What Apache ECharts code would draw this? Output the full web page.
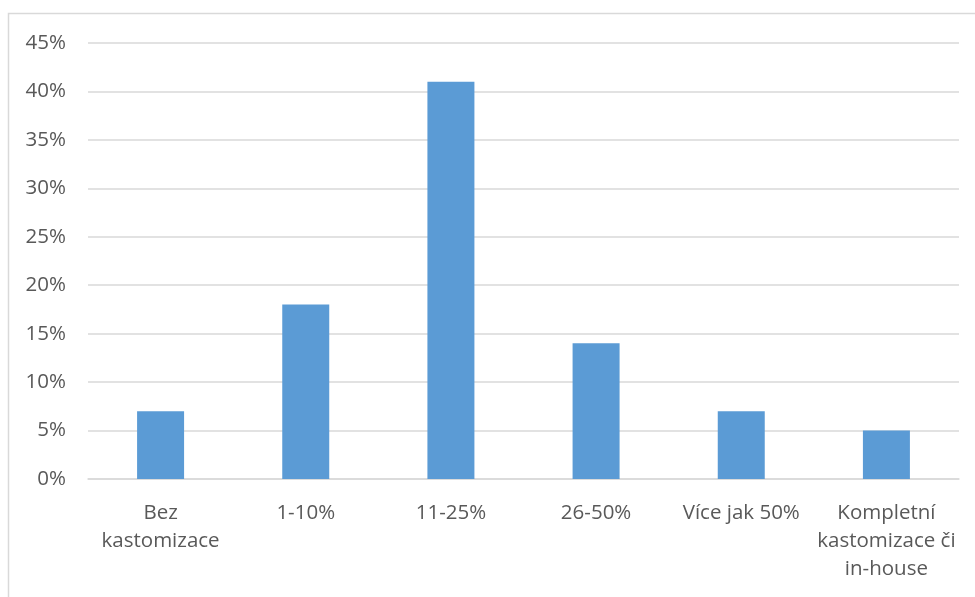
<!DOCTYPE html>
<html>
<head>
<meta charset="utf-8">
<style>
  html, body { margin: 0; padding: 0; background: #fff; }
  #chart { width: 975px; height: 597px; }
</style>
<script src="https://cdn.jsdelivr.net/npm/echarts@6/dist/echarts.min.js"></script>
</head>
<body>
<div id="chart"></div>
<script>
// Share of customisation by category (percent)
const categories = [
  'Bez\nkastomizace',
  '1-10%',
  '11-25%',
  '26-50%',
  'Více jak 50%',
  'Kompletní\nkastomizace či\nin-house'
];
const values = [7, 18, 41, 14, 7, 5];

// Value axis range and step (percent)
const yMin = 0;
const yMax = 45;
const yStep = 5;

const chart = echarts.init(document.getElementById('chart'), null, { renderer: 'canvas' });

const labelFont = {
  color: '#595959',
  fontFamily: 'Open Sans',
  fontSize: 20.5
};

chart.setOption({
  animation: false,
  backgroundColor: '#ffffff',
  graphic: [{
    type: 'rect',
    shape: { x: 8.5, y: 13.5, width: 1200, height: 1000 },
    style: { fill: 'none', stroke: '#d9d9d9', lineWidth: 1.5 },
    silent: true,
    z: -1
  }],
  grid: {
    left: 88,
    right: 16,
    top: 43,
    bottom: 118,
    containLabel: false
  },
  xAxis: {
    type: 'category',
    data: categories,
    axisLine: { show: true, lineStyle: { color: '#d9d9d9', width: 1.5 } },
    axisTick: { show: false },
    axisLabel: Object.assign({}, labelFont, {
      margin: 20,
      lineHeight: 28,
      interval: 0,
      align: 'center'
    })
  },
  yAxis: {
    type: 'value',
    min: yMin,
    max: yMax,
    interval: yStep,
    axisLine: { show: false },
    axisTick: { show: false },
    splitLine: { show: true, lineStyle: { color: '#d9d9d9', width: 1.5 } },
    axisLabel: Object.assign({}, labelFont, {
      margin: 22,
      formatter: v => v + '%'
    })
  },
  series: [{
    type: 'bar',
    data: values,
    barWidth: 47,
    itemStyle: { color: '#5b9bd5' }
  }]
});
</script>
</body>
</html>
